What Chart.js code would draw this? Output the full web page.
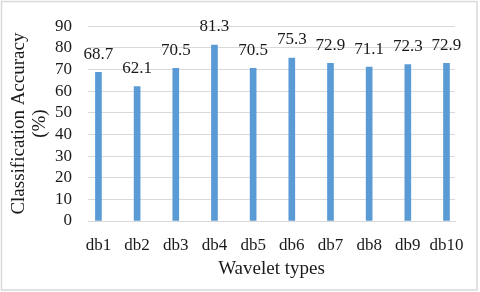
<!DOCTYPE html>
<html>
<head>
<meta charset="utf-8">
<script src="https://cdn.jsdelivr.net/npm/chart.js@4.4.0/dist/chart.umd.min.js"></script>
<style>
  html, body { margin: 0; padding: 0; background: #fff; }
  #wrap { width: 480px; height: 292px; position: relative; }
</style>
</head>
<body>
<div id="wrap"><canvas id="chart" width="480" height="292"></canvas></div>
<script>
const categories = ['db1', 'db2', 'db3', 'db4', 'db5', 'db6', 'db7', 'db8', 'db9', 'db10'];
const accuracy = [68.7, 62.1, 70.5, 81.3, 70.5, 75.3, 72.9, 71.1, 72.3, 72.9];
const yTicks = [0, 10, 20, 30, 40, 50, 60, 70, 80, 90];

const serif = "'Liberation Serif', 'Times New Roman', serif";
const textColor = '#1a1a1a';
const gridColor = '#d9d9d9';

// value labels above each bar
const valueLabels = {
    id: 'valueLabels',
    afterDatasetsDraw(chart) {
        const ctx = chart.ctx;
        const meta = chart.getDatasetMeta(0);
        ctx.save();
        ctx.font = '17px ' + serif;
        ctx.fillStyle = textColor;
        ctx.textAlign = 'center';
        ctx.textBaseline = 'middle';
        meta.data.forEach((bar, i) => {
            ctx.fillText(accuracy[i].toFixed(1), bar.x, bar.y - 18);
        });
        ctx.restore();
    }
};

// outer frame like the spreadsheet chart border
const frame = {
    id: 'frame',
    beforeDraw(chart) {
        const ctx = chart.ctx;
        ctx.save();
        ctx.fillStyle = '#fff';
        ctx.fillRect(0, 0, chart.width, chart.height);
        ctx.strokeStyle = gridColor;
        ctx.lineWidth = 1.5;
        ctx.strokeRect(1.5, 1.5, 475.5, 288.5);
        ctx.restore();
    }
};

new Chart(document.getElementById('chart'), {
    type: 'bar',
    data: {
        datasets: [{
            data: accuracy.map((v, i) => ({ x: i, y: v })),
            backgroundColor: '#5b9bd5',
            borderWidth: 0,
            barThickness: 6,
        }]
    },
    options: {
        responsive: false,
        animation: false,
        events: [],
        layout: { padding: { top: 23, right: 25, bottom: 12, left: 9 } },
        plugins: {
            legend: { display: false },
            tooltip: { enabled: false }
        },
        scales: {
            x: {
                type: 'linear',
                offset: false,
                min: -0.27,
                max: 9.22,
                grid: { display: false, drawTicks: false },
                border: { display: true, color: gridColor, width: 1 },
                afterBuildTicks: (scale) => {
                    scale.ticks = categories.map((c, i) => ({ value: i }));
                },
                afterFit: (scale) => { scale.height = 59; },
                ticks: {
                    autoSkip: false,
                    maxRotation: 0,
                    padding: 14,
                    color: textColor,
                    font: { family: serif, size: 17 },
                    callback: (v) => categories[v]
                },
                title: {
                    display: true,
                    text: 'Wavelet types',
                    color: textColor,
                    font: { family: serif, size: 19 },
                    padding: 0
                }
            },
            y: {
                min: 0,
                max: 90,
                afterBuildTicks: (scale) => {
                    scale.ticks = yTicks.map(v => ({ value: v }));
                },
                afterFit: (scale) => { scale.width = 79; },
                grid: { color: gridColor, lineWidth: 1, drawTicks: false },
                border: { display: false },
                ticks: {
                    autoSkip: false,
                    padding: 16,
                    color: textColor,
                    font: { family: serif, size: 17 }
                },
                title: {
                    display: true,
                    text: ['Classification Accuracy', '(%)'],
                    color: textColor,
                    font: { family: serif, size: 19, lineHeight: 1.1 },
                    padding: { top: 0, bottom: 0 }
                }
            }
        }
    },
    plugins: [frame, valueLabels]
});
</script>
</body>
</html>
